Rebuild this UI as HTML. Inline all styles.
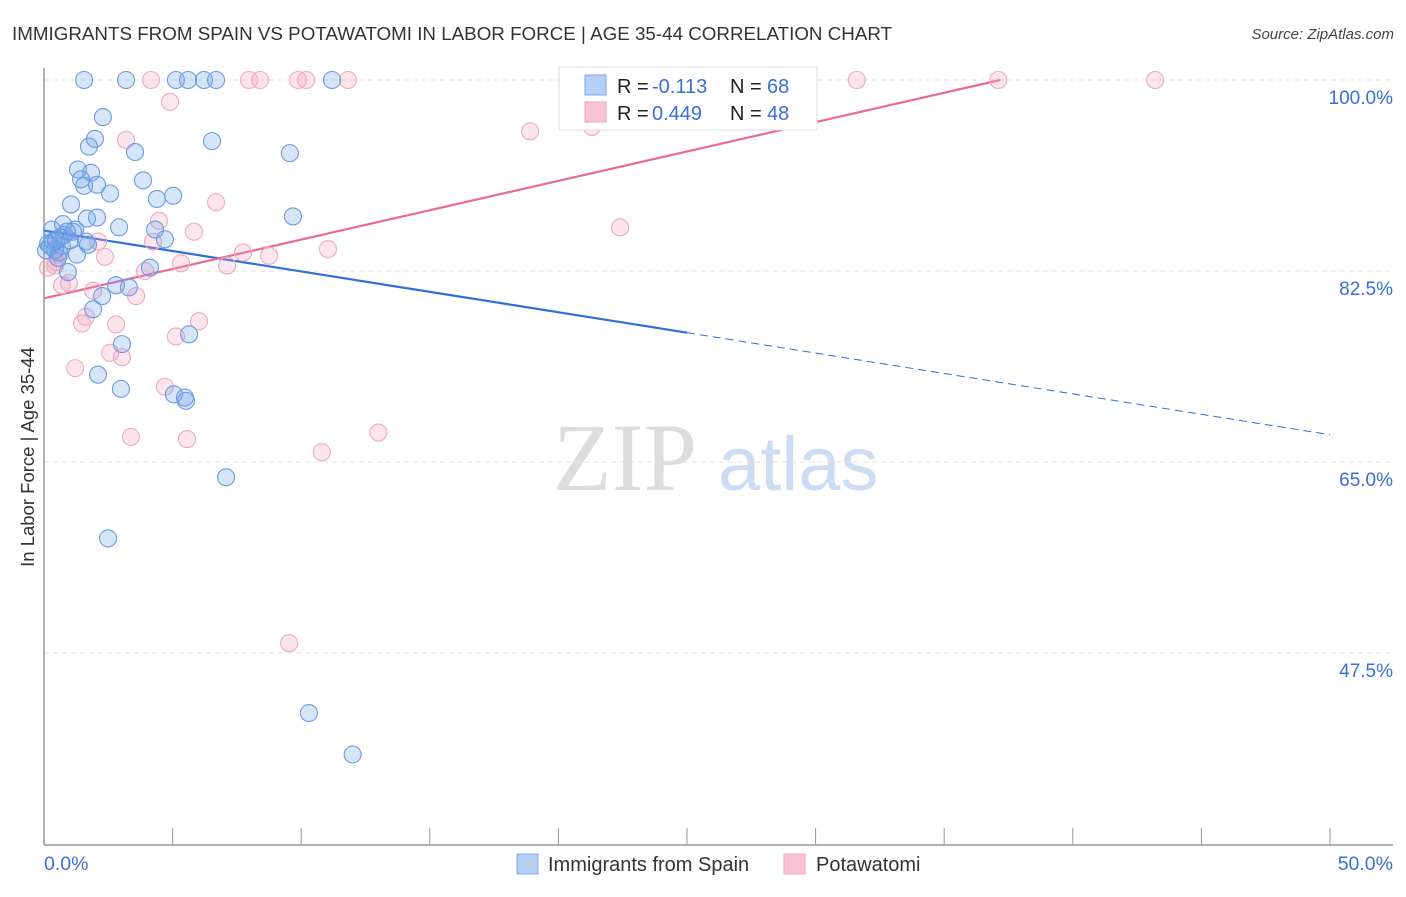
<!DOCTYPE html>
<html><head><meta charset="utf-8"><style>
body{margin:0;background:#fff;font-family:"Liberation Sans",sans-serif}
</style></head><body>
<svg id="chart" width="1406" height="892" xmlns="http://www.w3.org/2000/svg" font-family="Liberation Sans, sans-serif">
<text x="12" y="40" font-size="18.8" fill="#333">IMMIGRANTS FROM SPAIN VS POTAWATOMI IN LABOR FORCE | AGE 35-44 CORRELATION CHART</text>
<text x="1394" y="39" font-size="15" fill="#444" text-anchor="end" font-style="italic">Source: ZipAtlas.com</text>
<g>
<text x="553" y="490" font-size="96" fill="#ddd" font-family="Liberation Serif, serif">ZIP</text>
<text x="718" y="490" font-size="76" fill="#cddcf2">atlas</text>
</g>
<g id="grid"></g>
<g id="axes"></g>
<g id="trends"></g>
<g id="points"></g>
<text transform="translate(34,457) rotate(-90)" font-size="18.5" fill="#333" text-anchor="middle">In Labor Force | Age 35-44</text>
<g>
<rect x="559" y="67" width="258" height="63" fill="#fff" stroke="#ddd"/>
<rect x="585" y="75" width="21" height="20" fill="#b5cff5" stroke="#7fa7e8"/>
<rect x="585" y="102" width="21" height="20" fill="#f8c3d4" stroke="#eea0b9"/>
<text x="617" y="93" font-size="20" fill="#222">R =</text>
<text x="652" y="93" font-size="20" fill="#3a6fd8">-0.113</text>
<text x="730" y="93" font-size="20" fill="#222">N =</text>
<text x="767" y="93" font-size="20" fill="#3a6fd8">68</text>
<text x="617" y="120" font-size="20" fill="#222">R =</text>
<text x="652" y="120" font-size="20" fill="#3a6fd8">0.449</text>
<text x="730" y="120" font-size="20" fill="#222">N =</text>
<text x="767" y="120" font-size="20" fill="#3a6fd8">48</text>
</g>
<g>
<rect x="517" y="854" width="21" height="20" fill="#b5cff5" stroke="#7fa7e8"/>
<text x="548" y="871" font-size="20" fill="#333">Immigrants from Spain</text>
<rect x="784" y="854" width="21" height="20" fill="#f8c3d4" stroke="#eea0b9"/>
<text x="816" y="871" font-size="20" fill="#333">Potawatomi</text>
</g>
</svg>
<script>
const yTicks=[100,82.5,65,47.5];
const yTickLabels=["100.0%","82.5%","65.0%","47.5%"];
const xTickLabels=["0.0%","50.0%"];
const blueX=[1.56,3.19,5.13,5.60,6.22,6.69,11.2,20.96,2.29,1.98,6.53,1.75,3.54,9.56,1.32,1.83,1.44,1.56,2.06,3.85,2.57,5.02,4.39,1.05,9.68,2.06,1.67,2.92,0.31,0.74,1.21,0.89,0.62,0.35,1.63,1.71,4.70,4.32,0.58,1.28,0.23,0.43,0.54,0.93,4.12,2.80,3.30,2.26,1.91,5.64,3.03,2.10,2.99,5.05,5.48,5.52,7.08,2.49,10.3,12.0,0.16,0.47,1.01,0.70,0.08,0.78,1.13];
const blueY=[100,100,100,100,100,100,100,100,96.6,94.6,94.4,93.9,93.4,93.3,91.8,91.5,90.9,90.3,90.4,90.8,89.6,89.4,89.1,88.6,87.5,87.4,87.3,86.5,86.3,86.8,86.3,86.1,85.6,85.2,85.2,84.9,85.4,86.3,84.2,84.0,84.8,84.4,83.7,82.4,82.8,81.2,81.0,80.2,79.0,76.7,75.8,73.0,71.7,71.2,70.9,70.6,63.6,58.0,42.0,38.2,85.0,85.3,85.3,84.8,84.4,85.8,86.1];
const pinkX=[4.16,7.97,8.40,9.88,10.19,11.82,31.6,37.1,43.2,4.90,18.9,21.3,3.19,6.69,4.47,22.4,5.83,4.24,2.10,11.04,7.74,8.75,2.37,5.33,7.12,3.93,0.43,0.16,0.97,0.70,1.91,3.58,1.63,1.48,2.80,6.03,5.13,2.57,3.03,1.21,4.70,3.38,5.56,13.0,10.8,9.53,0.47,0.62];
const pinkY=[100,100,100,100,100,100,100,100,100,98.0,95.3,95.7,94.5,88.8,87.1,86.5,86.1,85.2,85.2,84.5,84.2,83.9,83.8,83.2,83.0,82.5,83.0,82.8,81.4,81.2,80.7,80.2,78.3,77.7,77.6,77.9,76.5,75.0,74.6,73.6,71.9,67.3,67.1,67.7,65.9,48.4,83.3,84.0];
const blueTrend=[86.2,67.5]; // y at x=0 and x=50
const pinkTrend=[80.0,0.538]; // intercept, slope
const NS="http://www.w3.org/2000/svg";
const xs=v=>44+v*(1286/50);
const ys=v=>80+(100-v)*(191/17.5);
function mk(tag,attrs,parent){const e=document.createElementNS(NS,tag);for(const k in attrs)e.setAttribute(k,attrs[k]);document.getElementById(parent).appendChild(e);return e;}
yTicks.forEach((t,i)=>{
  const l=mk('line',{x1:44,x2:1393,y1:ys(t),y2:ys(t),stroke:'#e2e2e2','stroke-dasharray':'5,4'},'grid');
  
  
  const tx=mk('text',{x:1393,y:ys(t)+24,'font-size':19,fill:'#3a6fd8','text-anchor':'end'},'grid');
  tx.textContent=yTickLabels[i];
  
  
});
let a=mk('line',{x1:44,x2:44,y1:68,y2:845,stroke:'#999','stroke-width':1.5},'axes');


a=mk('line',{x1:44,x2:1393,y1:845,y2:845,stroke:'#999','stroke-width':1.5},'axes');


for(let v=5;v<=50;v+=5){
  const t=mk('line',{x1:xs(v),x2:xs(v),y1:828,y2:845,stroke:'#999'},'axes');
  
  
}
let t0=mk('text',{x:44,y:870,'font-size':19.5,fill:'#3a6fd8'},'axes');t0.textContent=xTickLabels[0];


let t1=mk('text',{x:1393,y:870,'font-size':19.5,fill:'#3a6fd8','text-anchor':'end'},'axes');t1.textContent=xTickLabels[1];


function pts(X,Y,fill,stroke,name){X.forEach((x,i)=>{
  const c=mk('circle',{cx:xs(x),cy:ys(Y[i]),r:8.5,fill:fill,stroke:stroke,'stroke-width':1.1},'points');
  
  
});}
pts(pinkX,pinkY,'rgba(244,160,190,0.28)','#eeaac0','potawatomi-point');
pts(blueX,blueY,'rgba(110,160,235,0.28)','#6b9be0','spain-point');
const bAt=x=>blueTrend[0]+(blueTrend[1]-blueTrend[0])*x/50;
let tl=mk('line',{x1:xs(0),y1:ys(bAt(0)),x2:xs(25),y2:ys(bAt(25)),stroke:'#2f6fd8','stroke-width':2.2},'trends');


tl=mk('line',{x1:xs(25),y1:ys(bAt(25)),x2:xs(50),y2:ys(bAt(50)),stroke:'#2f6fd8','stroke-width':1,'stroke-dasharray':'8,5'},'trends');


const pEnd=(100-pinkTrend[0])/pinkTrend[1];
tl=mk('line',{x1:xs(0),y1:ys(pinkTrend[0]),x2:xs(pEnd),y2:ys(100),stroke:'#e8699a','stroke-width':2.2},'trends');


</script>
</body></html>
